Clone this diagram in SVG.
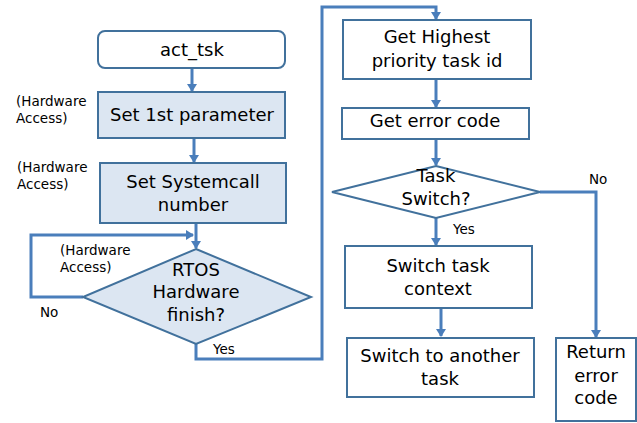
<svg xmlns="http://www.w3.org/2000/svg" width="637" height="423" viewBox="0 0 637 423">
<style>
.n{fill:#fff;stroke:#41719c;stroke-width:2}
.f{fill:#dce6f2;stroke:#41719c;stroke-width:2}
.t{font-family:"DejaVu Sans","Noto Sans",sans-serif;font-size:18px;fill:#000;text-anchor:middle}
.s{font-family:"DejaVu Sans","Noto Sans",sans-serif;font-size:13.5px;fill:#000}
.c{fill:none;stroke:#4a7ebb;stroke-width:3}
</style>
<defs>
<marker id="a" markerWidth="10" markerHeight="10" refX="7" refY="5" orient="auto" markerUnits="userSpaceOnUse">
<path d="M0,0 L8,5 L0,10 z" fill="#4a7ebb"/>
</marker>
</defs>
<rect width="637" height="423" fill="#fff"/>
<g id="connectors">
<path class="c" d="M192,68 V91" marker-end="url(#a)"/>
<path class="c" d="M194,138 V162" marker-end="url(#a)"/>
<path class="c" d="M196,223 V248" marker-end="url(#a)"/>
<path class="c" d="M83,297 H31 V235 H193" marker-end="url(#a)"/>
<path class="c" d="M196,344 V359 H322 V7 H436 V19" marker-end="url(#a)"/>
<path class="c" d="M436,79 V107" marker-end="url(#a)"/>
<path class="c" d="M436,139 V165" marker-end="url(#a)"/>
<path class="c" d="M436,218 V245" marker-end="url(#a)"/>
<path class="c" d="M441,308 V336" marker-end="url(#a)"/>
<path class="c" d="M540,192 H596 V337" marker-end="url(#a)"/>
</g>
<g id="act_tsk">
<rect class="n" x="98" y="31" width="187" height="37" rx="7"/>
<text class="t" x="192" y="56">act_tsk</text>
</g>
<g id="set1st">
<rect class="f" x="98" y="92" width="187" height="46"/>
<text class="t" x="192" y="121">Set 1st parameter</text>
<text class="s" x="16" y="106">(Hardware</text>
<text class="s" x="16" y="123">Access)</text>
</g>
<g id="setsyscall">
<rect class="f" x="100" y="163" width="186" height="60"/>
<text class="t" x="193" y="188">Set Systemcall</text>
<text class="t" x="193" y="211">number</text>
<text class="s" x="17" y="172">(Hardware</text>
<text class="s" x="17" y="189">Access)</text>
</g>
<g id="rtos">
<path class="f" d="M196,249 L311,297 L196,344 L83,297 z"/>
<text class="t" x="196" y="276">RTOS</text>
<text class="t" x="196" y="298">Hardware</text>
<text class="t" x="196" y="321">finish?</text>
<text class="s" x="60" y="255">(Hardware</text>
<text class="s" x="60" y="272">Access)</text>
<text class="s" x="40" y="317">No</text>
<text class="s" x="213" y="354">Yes</text>
</g>
<g id="gethighest">
<rect class="n" x="343" y="20" width="188" height="59"/>
<text class="t" x="437" y="43">Get Highest</text>
<text class="t" x="437" y="67">priority task id</text>
</g>
<g id="geterror">
<rect class="n" x="342" y="108" width="187" height="31"/>
<text class="t" x="435" y="127">Get error code</text>
</g>
<g id="taskswitch">
<path class="n" d="M436,166 L540,192 L436,218 L332,192 z"/>
<text class="t" x="436" y="182">Task</text>
<text class="t" x="436" y="205">Switch?</text>
<text class="s" x="589" y="184">No</text>
<text class="s" x="453" y="234">Yes</text>
</g>
<g id="switchctx">
<rect class="n" x="345" y="246" width="187" height="62"/>
<text class="t" x="438" y="272">Switch task</text>
<text class="t" x="438" y="295">context</text>
</g>
<g id="switchtask">
<rect class="n" x="347" y="338" width="187" height="59"/>
<text class="t" x="440" y="362">Switch to another</text>
<text class="t" x="440" y="385">task</text>
</g>
<g id="returnerr">
<rect class="n" x="556" y="338" width="80" height="83"/>
<text class="t" x="596" y="358">Return</text>
<text class="t" x="596" y="382">error</text>
<text class="t" x="596" y="404">code</text>
</g>
</svg>
